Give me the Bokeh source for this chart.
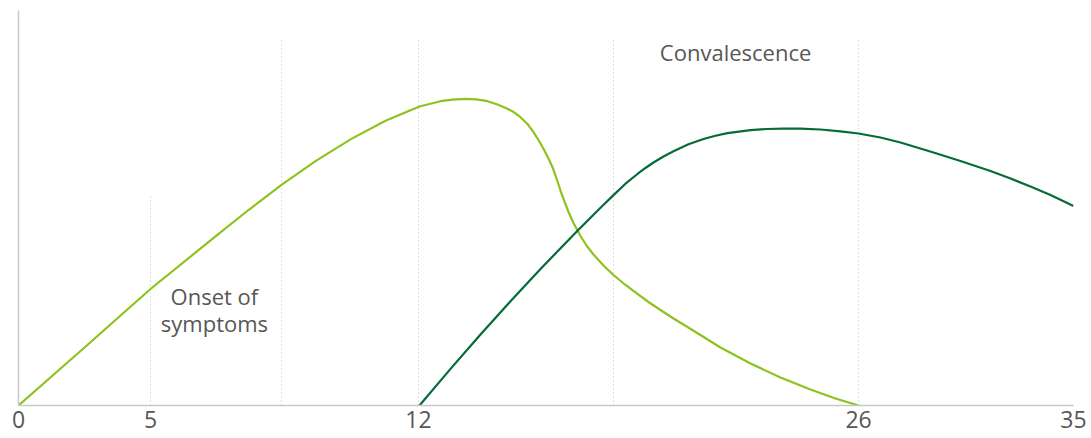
from bokeh.plotting import figure
from bokeh.models import Range1d, FixedTicker
from bokeh.core.properties import value
from bokeh.embed import file_html
from bokeh.resources import INLINE

# Timeline (chart units along the x axis) and tick labels
tick_pos = [0, 4.38, 13.27, 27.87, 35]
tick_labels = ["0", "5", "12", "26", "35"]
marker_pos = [4.38, 8.72, 13.27, 19.74, 27.87]
marker_top = [53.2, 92.4, 92.4, 92.4, 92.4]

# Light green curve
light_x = [0.000, 2.190, 4.379, 6.535, 7.630, 8.725, 9.853, 11.014, 12.175, 13.303,
           14.000, 14.398, 14.829, 15.194, 15.559, 15.891, 16.223, 16.455, 16.654,
           16.886, 17.085, 17.251, 17.417, 17.583, 17.716, 17.849, 17.981, 18.114,
           18.247, 18.412, 18.644, 18.843, 19.076, 19.407, 19.739, 20.137, 20.535,
           20.900, 21.298, 21.730, 22.194, 23.289, 24.284, 25.279, 26.275, 27.104,
           27.867]
light_y = [0.00, 14.68, 29.49, 42.81, 49.49, 55.85, 61.87, 67.37, 72.07, 75.69,
           77.04, 77.42, 77.64, 77.49, 77.04, 76.20, 75.11, 74.17, 72.99,
           71.26, 69.19, 67.21, 64.99, 62.53, 60.33, 57.47, 54.43, 51.64,
           48.99, 46.20, 42.91, 40.51, 38.23, 35.44, 33.04, 30.51, 28.23,
           26.20, 24.18, 22.02, 19.87, 14.68, 10.63, 7.09, 4.05, 1.77,
           0.00]

# Dark green curve
dark_x = [13.303, 14.332, 15.327, 16.322, 17.318, 18.545, 19.308, 19.739, 20.137,
          20.535, 20.801, 21.066, 21.398, 21.730, 22.227, 22.725, 23.123, 23.521,
          24.284, 24.815, 25.379, 25.943, 26.606, 27.270, 27.867, 28.597, 29.261,
          30.355, 31.251, 32.246, 32.910, 33.573, 34.237, 35.000]
dark_y = [0.00, 9.27, 17.97, 26.40, 34.56, 44.25, 50.05, 53.26, 56.15,
          58.61, 60.13, 61.52, 63.04, 64.38, 66.13, 67.47, 68.30, 68.94,
          69.72, 70.00, 70.12, 70.10, 69.87, 69.42, 68.86, 67.85, 66.58,
          64.05, 61.90, 59.37, 57.47, 55.44, 53.29, 50.51]

FONT = "Open Sans"
TEXT_COLOR = "#575757"

p = figure(frame_width=1055, frame_height=395, output_backend="svg",
           toolbar_location=None, x_range=Range1d(0, 35), y_range=Range1d(0, 100),
           min_border_left=18, min_border_top=10, min_border_right=18,
           min_border_bottom=33)
p.outline_line_color = None
p.xgrid.visible = False
p.ygrid.visible = False
p.background_fill_color = "white"
p.border_fill_color = "white"

# axes
p.xaxis.ticker = FixedTicker(ticks=tick_pos)
p.xaxis.major_label_overrides = {t: l for t, l in zip(tick_pos, tick_labels)}
p.xaxis.major_tick_line_color = None
p.xaxis.minor_tick_line_color = None
p.xaxis.major_tick_out = 0
p.xaxis.major_tick_in = 0
p.xaxis.axis_line_color = "#c8c8c8"
p.xaxis.axis_line_width = 1.5
p.xaxis.major_label_text_font = FONT
p.xaxis.major_label_text_font_size = "23px"
p.xaxis.major_label_text_color = TEXT_COLOR
p.xaxis.major_label_standoff = 5

p.yaxis.ticker = FixedTicker(ticks=[])
p.yaxis.major_tick_line_color = None
p.yaxis.minor_tick_line_color = None
p.yaxis.major_tick_out = 0
p.yaxis.major_tick_in = 0
p.yaxis.major_label_text_font_size = "0px"
p.yaxis.axis_line_color = "#c8c8c8"
p.yaxis.axis_line_width = 1.5

# dotted markers
p.segment(x0=marker_pos, y0=[0] * len(marker_pos), x1=marker_pos, y1=marker_top,
          line_color="#bdbdbd", line_width=1, line_dash="1 3")

# curves
p.line(light_x, light_y, line_color="#8dc21f", line_width=2.2, line_join="round")
p.line(dark_x, dark_y, line_color="#056b38", line_width=2.2, line_join="round")

# annotations
p.text(x=[23.79], y=[89.4], text=["Convalescence"], text_align="center",
       text_baseline="middle", text_font=value(FONT), text_font_size="22px",
       text_color=TEXT_COLOR)
p.text(x=[6.50, 6.50], y=[27.6, 21.0], text=["Onset of", "symptoms"],
       text_align="center", text_baseline="middle", text_font=value(FONT),
       text_font_size="22px", text_color=TEXT_COLOR)

open("out.html", "w").write(file_html(p, INLINE))
